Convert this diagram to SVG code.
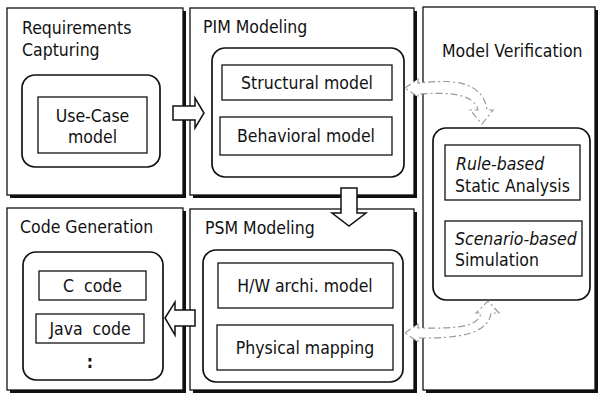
<svg xmlns="http://www.w3.org/2000/svg" width="598" height="394" viewBox="0 0 598 394">
  <style>
    .panel { fill: #fff; stroke: #111; stroke-width: 1.3; }
    .shadow { fill: #111; }
    .group { fill: #fff; stroke: #111; stroke-width: 1.7; }
    .box { fill: #fff; stroke: #111; stroke-width: 1.3; }
    text { font-family: "DejaVu Sans", "Liberation Sans", sans-serif; font-stretch: condensed; font-size: 17.5px; fill: #111; white-space: pre; }
    .c { text-anchor: middle; }
    .it { font-style: italic; }
    .block { fill: #fff; stroke: #111; stroke-width: 1.5; stroke-linejoin: miter; }
    .dash { fill: #fff; stroke: #9a9a9a; stroke-width: 1.2; stroke-dasharray: 7 3 2 3; }
  </style>

  <!-- Requirements Capturing -->
  <g id="requirements">
    <rect class="shadow" x="10" y="11" width="176" height="187"/>
    <rect class="panel" x="7" y="8" width="176" height="187"/>
    <text x="22" y="34">Requirements</text>
    <text x="22" y="56">Capturing</text>
    <rect class="group" x="22" y="75" width="138" height="92" rx="13"/>
    <rect class="box" x="38" y="97" width="109" height="56"/>
    <text class="c" x="92.5" y="122">Use-Case</text>
    <text class="c" x="92.5" y="143">model</text>
  </g>

  <!-- PIM Modeling -->
  <g id="pim">
    <rect class="shadow" x="193" y="11" width="224" height="187"/>
    <rect class="panel" x="190" y="8" width="224" height="187"/>
    <text x="203" y="33">PIM Modeling</text>
    <rect class="group" x="212" y="48" width="192" height="129" rx="13"/>
    <rect class="box" x="222" y="65" width="170" height="35"/>
    <text class="c" x="307" y="89">Structural model</text>
    <rect class="box" x="220" y="117" width="172" height="38"/>
    <text class="c" x="306" y="142">Behavioral model</text>
  </g>

  <!-- Model Verification -->
  <g id="verification">
    <rect class="shadow" x="426" y="10" width="172" height="383"/>
    <rect class="panel" x="423" y="7" width="172" height="383"/>
    <text x="442" y="57">Model Verification</text>
    <rect class="group" x="433" y="128" width="157" height="172" rx="13"/>
    <rect class="box" x="445" y="145" width="135" height="55"/>
    <text class="it" x="456" y="170">Rule-based</text>
    <text x="455" y="192">Static Analysis</text>
    <rect class="box" x="445" y="221" width="137" height="55"/>
    <text class="it" x="455" y="245">Scenario-based</text>
    <text x="455" y="266">Simulation</text>
  </g>

  <!-- Code Generation -->
  <g id="codegen">
    <rect class="shadow" x="10" y="211" width="176" height="182"/>
    <rect class="panel" x="7" y="208" width="176" height="182"/>
    <text x="20" y="233">Code Generation</text>
    <rect class="group" x="23" y="252" width="140" height="128" rx="13"/>
    <rect class="box" x="39" y="271" width="107" height="29"/>
    <text class="c" x="92.5" y="292">C  code</text>
    <rect class="box" x="36" y="314" width="108" height="29"/>
    <text class="c" x="90" y="335">Java  code</text>
    <text class="c" x="90" y="368" font-weight="bold">:</text>
  </g>

  <!-- PSM Modeling -->
  <g id="psm">
    <rect class="shadow" x="193" y="212" width="224" height="181"/>
    <rect class="panel" x="190" y="209" width="224" height="181"/>
    <text x="205" y="234">PSM Modeling</text>
    <rect class="group" x="203" y="250" width="200" height="132" rx="13"/>
    <rect class="box" x="218" y="263" width="175" height="45"/>
    <text class="c" x="305" y="292">H/W archi. model</text>
    <rect class="box" x="217" y="325" width="176" height="45"/>
    <text class="c" x="305" y="354">Physical mapping</text>
  </g>

  <!-- Flow arrows -->
  <g id="connectors">
    <path class="block" d="M173,106 L195,106 L195,98 L204,113 L195,128 L195,120 L173,120 Z"/>
    <path class="block" d="M341,188 L357,188 L357,213 L366,213 L349,226 L332,213 L341,213 Z"/>
    <path class="block" d="M195,310 L175,310 L175,302 L165,318 L175,335 L175,326 L195,326 Z"/>
    <path class="dash" d="M405,88 L418,79 L418,83 C442,81 482,76 487,110 L493,110 L482,124 L470,110 L478,110 C473,91 442,93 418,94 L418,97 Z"/>
    <path class="dash" d="M405,333 L418,324 L418,328 C445,328 478,330 481,313 L476,313 L488,301 L499,313 L491,313 C488,338 445,338 418,338 L418,342 Z"/>
  </g>
</svg>
